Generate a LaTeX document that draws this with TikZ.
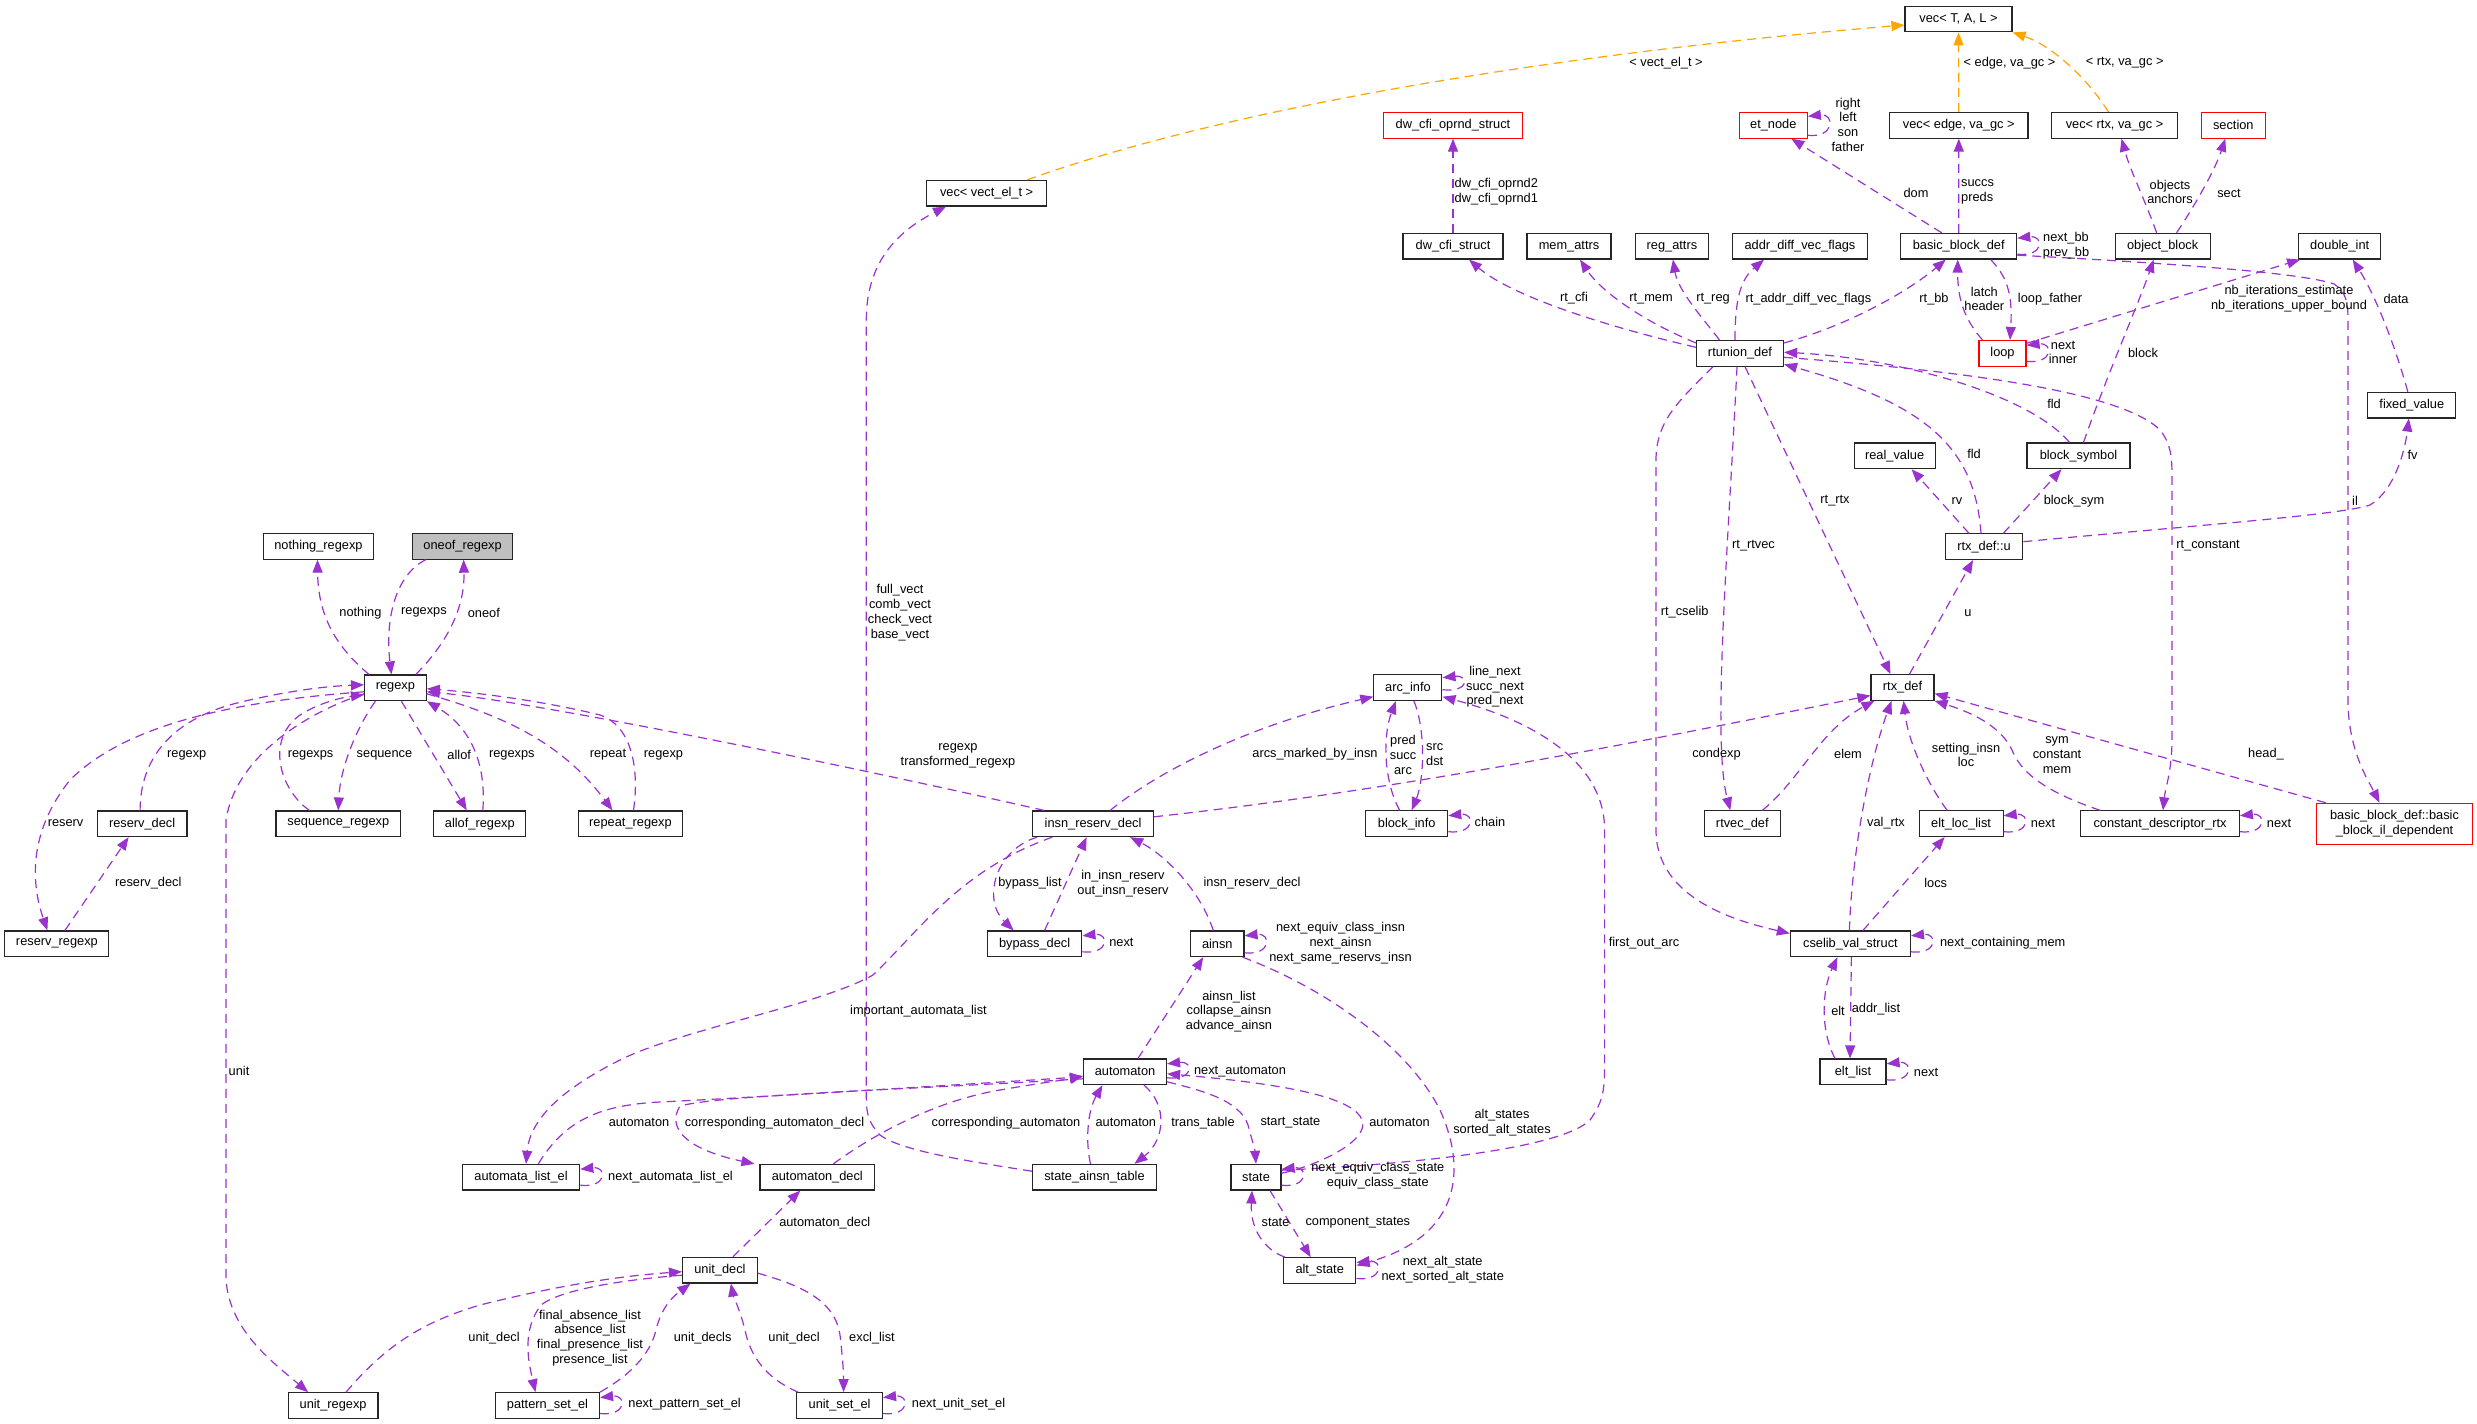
\documentclass[tikz,border=0pt]{standalone}
\usepackage{fontspec}
\setmainfont{Liberation Sans}
\usetikzlibrary{arrows.meta,calc}
\definecolor{purp}{RGB}{154,50,205}
\definecolor{orng}{RGB}{255,165,0}
\definecolor{gfill}{RGB}{191,191,191}
\newcommand\myloopab[3]{\draw[edge] ($(#1.east)+(0,#2)$) .. controls +(27,3) and +(27,-3) .. ($(#1.east)+(0,#3)$);}
\newcommand\myloop[1]{\myloopab{#1}{8}{-8}}
\begin{document}
\begin{tikzpicture}[x=1pt,y=-1pt,
  box/.style={draw=black!85, line width=1.15pt, fill=white, minimum height=25.6pt, inner sep=0pt, font=\fontsize{12.8}{14.8}\selectfont},
  rbox/.style={box, draw=red},
  lbl/.style={font=\fontsize{12.8}{14.8}\selectfont, align=center, inner sep=0pt},
  edge/.style={draw=purp, line width=1.2pt, dash pattern=on 9pt off 6pt, -{Triangle[length=13pt,width=10pt]}},
  oedge/.style={draw=orng, line width=1.2pt, dash pattern=on 9pt off 6pt, -{Triangle[length=13pt,width=10pt]}}]
\fill[white] (0,0) rectangle (2477,1424);
\useasboundingbox (0,0) rectangle (2477,1424);
% ---------- nodes ----------
\node[box, minimum width=107pt] (nvtal) at (1958.5,19) {vec< T, A, L >};
\node[box, minimum width=120pt] (nvvect) at (986.6,193.2) {vec< vect\_el\_t >};
\node[rbox, minimum width=139pt] (ndwop) at (1453,125.3) {dw\_cfi\_oprnd\_struct};
\node[rbox, minimum width=68pt] (netnode) at (1773.3,125.3) {et\_node};
\node[box, minimum width=138.5pt] (nvedge) at (1958.8,125.3) {vec< edge, va\_gc >};
\node[box, minimum width=125.4pt] (nvrtx) at (2114.5,125.3) {vec< rtx, va\_gc >};
\node[rbox, minimum width=64pt] (nsection) at (2233.3,125.3) {section};
\node[box, minimum width=100pt] (ndwcfi) at (1453,246.2) {dw\_cfi\_struct};
\node[box, minimum width=84pt] (nmemattrs) at (1569,246.2) {mem\_attrs};
\node[box, minimum width=73pt] (nregattrs) at (1671.9,246.2) {reg\_attrs};
\node[box, minimum width=135pt] (naddrdiff) at (1800,246.2) {addr\_diff\_vec\_flags};
\node[box, minimum width=116pt] (nbbdef) at (1958.7,246.2) {basic\_block\_def};
\node[box, minimum width=95pt] (nobjblock) at (2162.6,246.2) {object\_block};
\node[box, minimum width=82pt] (ndoubleint) at (2339.7,246.2) {double\_int};
\node[box, minimum width=87pt] (nrtunion) at (1740,353.3) {rtunion\_def};
\node[rbox, minimum width=47pt] (nloop) at (2002.5,353.3) {loop};
\node[box, minimum width=81pt] (nrealvalue) at (1894.6,455.8) {real\_value};
\node[box, minimum width=103pt] (nblocksym) at (2078.5,455.8) {block\_symbol};
\node[box, minimum width=88pt] (nfixedvalue) at (2411.8,405.2) {fixed\_value};
\node[box, minimum width=77.5pt] (nrtxu) at (1984,546.7) {rtx\_def::u};
\node[box, minimum width=110pt] (nnothing) at (318.5,546.3) {nothing\_regexp};
\node[box, fill=gfill, minimum width=100.4pt] (noneof) at (462.6,546.3) {oneof\_regexp};
\node[box, minimum width=61.7pt] (nregexp) at (395.4,687.8) {regexp};
\node[box, minimum width=68pt] (narcinfo) at (1407.9,687.7) {arc\_info};
\node[box, minimum width=63pt] (nrtxdef) at (1902.5,687.5) {rtx\_def};
\node[box, minimum width=89.7pt] (nreservdecl) at (142.1,823.8) {reserv\_decl};
\node[box, minimum width=124.5pt] (nseqre) at (338.3,823.8) {sequence\_regexp};
\node[box, minimum width=92pt] (nallof) at (479.8,823.8) {allof\_regexp};
\node[box, minimum width=104pt] (nrepeat) at (630.5,823.8) {repeat\_regexp};
\node[box, minimum width=120.6pt] (ninsnreserv) at (1093.1,823.8) {insn\_reserv\_decl};
\node[box, minimum width=82pt] (nblockinfo) at (1406.7,823.7) {block\_info};
\node[box, minimum width=76pt] (nrtvec) at (1742.3,823.7) {rtvec\_def};
\node[box, minimum width=84pt] (neltloc) at (1961.1,823.7) {elt\_loc\_list};
\node[box, minimum width=158.6pt] (nconstdesc) at (2160,823.7) {constant\_descriptor\_rtx};
\node[rbox, minimum width=155.5pt, minimum height=41pt, align=center] (nbbil) at (2394.5,823.8) {basic\_block\_def::basic\\\_block\_il\_dependent};
\node[box, minimum width=104pt] (nreservre) at (56.9,943.8) {reserv\_regexp};
\node[box, minimum width=94.5pt] (nbypass) at (1034.6,943.8) {bypass\_decl};
\node[box, minimum width=53.4pt] (nainsn) at (1217.3,943.8) {ainsn};
\node[box, minimum width=120pt] (ncselib) at (1850.4,943.8) {cselib\_val\_struct};
\node[box, minimum width=83pt] (nautomaton) at (1125,1071.8) {automaton};
\node[box, minimum width=66pt] (neltlist) at (1853,1071.8) {elt\_list};
\node[box, minimum width=117.5pt] (nautolist) at (521,1177.2) {automata\_list\_el};
\node[box, minimum width=114.6pt] (nautodecl) at (817.3,1177.2) {automaton\_decl};
\node[box, minimum width=124pt] (nsat) at (1094.5,1177.2) {state\_ainsn\_table};
\node[box, minimum width=50pt] (nstate) at (1256,1177.2) {state};
\node[box, minimum width=72.4pt] (naltstate) at (1319.7,1270.5) {alt\_state};
\node[box, minimum width=74.7pt] (nunitdecl) at (719.9,1270.2) {unit\_decl};
\node[box, minimum width=89.7pt] (nunitre) at (333.1,1405.5) {unit\_regexp};
\node[box, minimum width=104pt] (npattern) at (547.5,1405.5) {pattern\_set\_el};
\node[box, minimum width=85.8pt] (nunitset) at (839.6,1405.5) {unit\_set\_el};
% ---------- orange edges ----------
\draw[oedge] ($(nvvect.north east)+(-20,0)$) .. controls (1250,100) and (1600,50) .. ($(nvtal.west)+(0,6)$);
\draw[oedge] (nvedge.north) -- (nvtal.south);
\draw[oedge] ($(nvrtx.north)+(-6,0)$) .. controls (2085,75) and (2050,45) .. (nvtal.south east);
\node[lbl] (o1) at (1666,63) {< vect\_el\_t >};
\node[lbl, anchor=west] (o2) at (1963.4,62.7) {< edge, va\_gc >};
\node[lbl] (o3) at (2124.7,62.7) {< rtx, va\_gc >};
% ---------- top right ----------
\draw[edge] (ndwcfi.north) -- (ndwop.south);
\draw[edge] ($(nrtunion.west)+(0,-6)$) .. controls (1600,325) and (1510,295) .. ($(ndwcfi.south)+(16,0)$);
\draw[edge] ($(nrtunion.north west)+(0,3)$) .. controls (1640,320) and (1600,290) .. ($(nmemattrs.south)+(11,0)$);
\draw[edge] ($(nrtunion.north)+(-20.5,0)$) .. controls (1700,315) and (1678,290) .. ($(nregattrs.south)+(1,0)$);
\draw[edge] ($(nrtunion.north)+(-5,0)$) .. controls (1735,300) and (1740,280) .. ($(naddrdiff.south)+(-36,0)$);
\draw[edge] ($(nrtunion.north east)+(0,3)$) .. controls (1850,325) and (1910,290) .. ($(nbbdef.south)+(-13,0)$);
\draw[edge] ($(nbbdef.north)+(-17,0)$) -- ($(netnode.south)+(18,0)$);
\myloopab{netnode}{10}{-9}
\draw[edge] (nbbdef.north) -- (nvedge.south);
\myloop{nbbdef}
\draw[edge] ($(nobjblock.north)+(-6,0)$) .. controls (2145,200) and (2130,170) .. ($(nvrtx.south)+(7,0)$);
\draw[edge] ($(nobjblock.north)+(14,0)$) .. controls (2195,205) and (2215,170) .. ($(nsection.south)+(-8,0)$);
\draw[edge] ($(nloop.north)+(-20,0)$) .. controls (1965,320) and (1957.5,300) .. ($(nbbdef.south)+(-1,0)$);
\draw[edge] ($(nbbdef.south)+(32,0)$) .. controls (2005,275) and (2013,290) .. ($(nloop.north)+(7.5,0)$);
\myloop{nloop}
\draw[edge] ($(nloop.east)+(0,-10)$) -- ($(ndoubleint.south west)+(2,0)$);
\draw[edge] ($(nfixedvalue.north)+(-4,0)$) .. controls (2395,345) and (2375,295) .. ($(ndoubleint.south)+(13,0)$);
\draw[edge] ($(nbbdef.east)+(0,9)$) .. controls (2150,262) and (2300,272) .. (2334,284) .. controls (2346,292) and (2348,302) .. (2348,320) -- (2348,700) .. controls (2348,750) and (2368,780) .. ($(nbbil.north)+(-15,0)$);
\draw[edge] ($(nrtunion.south)+(5,0)$) -- ($(nrtxdef.north)+(-12,0)$);
\draw[edge] ($(nrtxu.north)+(-3,0)$) .. controls (1975,450) and (1930,405) .. ($(nrtunion.east)+(0,11)$);
\draw[edge] ($(nblocksym.north)+(-9,0)$) .. controls (2030,395) and (1900,358) .. ($(nrtunion.east)+(0,-1)$);
\draw[edge] ($(nrtxu.north)+(-15,0)$) -- ($(nrealvalue.south)+(17,0)$);
\draw[edge] ($(nrtxu.north east)+(-20,0)$) -- ($(nblocksym.south)+(-17,0)$);
\draw[edge] ($(nblocksym.north)+(5,0)$) .. controls (2105,380) and (2140,300) .. ($(nobjblock.south)+(-9,0)$);
\draw[edge] ($(nrtxdef.north)+(7,0)$) -- ($(nrtxu.south)+(-11,0)$);
\draw[edge] ($(nrtunion.south)+(-3,0)$) .. controls (1728,550) and (1712,740) .. ($(nrtvec.north)+(-12,0)$);
\draw[edge] ($(nrtunion.south)+(-27,0)$) .. controls (1680,400) and (1656,420) .. (1656,460) -- (1656,830) .. controls (1656,900) and (1740,922) .. ($(ncselib.north west)+(0,3)$);
\draw[edge] ($(nrtunion.east)+(0,4)$) .. controls (1950,370) and (2120,390) .. (2160,430) .. controls (2172,445) and (2172,460) .. (2172,480) -- (2172,740) .. controls (2172,770) and (2165,790) .. ($(nconstdesc.north)+(3,0)$);
\draw[edge] ($(nrtxu.east)+(0,-5)$) .. controls (2200,525) and (2340,515) .. (2370,505) .. controls (2395,490) and (2405,450) .. ($(nfixedvalue.south)+(-3,0)$);
\draw[edge] ($(nrtvec.north)+(20,0)$) .. controls (1800,780) and (1820,730) .. ($(nrtxdef.south west)+(4,0)$);
\draw[edge] ($(ninsnreserv.east)+(0,-7)$) .. controls (1400,790) and (1650,740) .. ($(nrtxdef.west)+(0,8)$);
\draw[edge] ($(ncselib.north)+(-1,0)$) .. controls (1852,850) and (1870,760) .. ($(nrtxdef.south)+(-11,0)$);
\draw[edge] ($(neltloc.north)+(-14,0)$) .. controls (1925,780) and (1908,740) .. ($(nrtxdef.south)+(1,0)$);
\draw[edge] ($(nconstdesc.north west)+(20,0)$) .. controls (2040,790) and (2020,770) .. (2012,750) .. controls (2000,725) and (1970,712) .. (nrtxdef.south east);
\draw[edge] ($(nbbil.north west)+(9.5,0)$) -- ($(nrtxdef.east)+(0,6)$);
\myloop{neltloc}
\myloop{nconstdesc}
\draw[edge] ($(ncselib.north east)+(-48,0)$) -- ($(neltloc.south)+(-16.5,0)$);
\myloop{ncselib}
\draw[edge] ($(neltlist.north)+(-18,0)$) .. controls (1820,1030) and (1822,990) .. ($(ncselib.south)+(-13,0)$);
\draw[edge] ($(ncselib.south)+(1,0)$) -- ($(neltlist.north)+(-3,0)$);
\myloop{neltlist}
% ---------- middle ----------
\myloopab{narcinfo}{2}{-10}
\draw[edge] ($(ninsnreserv.north)+(17,0)$) .. controls (1160,770) and (1250,725) .. ($(narcinfo.west)+(0,9)$);
\draw[edge] ($(nblockinfo.north)+(-7,0)$) .. controls (1383,780) and (1383,735) .. ($(narcinfo.south)+(-12,0)$);
\draw[edge] ($(narcinfo.south)+(6,0)$) .. controls (1426,730) and (1424,780) .. ($(nblockinfo.north)+(5,0)$);
\myloop{nblockinfo}
\draw[edge] ($(nstate.east)+(0,-7)$) .. controls (1400,1165) and (1560,1150) .. (1590,1120) .. controls (1604,1100) and (1604.6,1090) .. (1604.6,1060) -- (1604.6,830) .. controls (1604.6,760) and (1530,720) .. ($(narcinfo.east)+(0,9)$);
\myloopab{nainsn}{9}{-8}
\draw[edge] ($(nainsn.north)+(-4,0)$) .. controls (1200,890) and (1165,855) .. ($(ninsnreserv.south)+(37,0)$);
\draw[edge] ($(ninsnreserv.south)+(-56,0)$) .. controls (995,850) and (982,900) .. ($(nbypass.north)+(-21,0)$);
\draw[edge] ($(nbypass.north)+(10,0)$) -- ($(ninsnreserv.south)+(-6.5,0)$);
\myloop{nbypass}
\draw[edge] ($(ninsnreserv.north west)+(12,0)$) .. controls (800,755) and (520,700) .. ($(nregexp.east)+(0,4)$);
\draw[edge] ($(ninsnreserv.south west)+(20,0)$) .. controls (960,870) and (920,930) .. (873,975) .. controls (820,1005) and (680,1030) .. (620,1060) .. controls (560,1090) and (530,1120) .. ($(nautolist.north)+(5,0)$);
\draw[edge] ($(nautolist.north east)+(-42,0)$) .. controls (565,1120) and (600,1105) .. (660,1102) .. controls (800,1095) and (1000,1082) .. ($(nautomaton.west)+(0,5)$);
\myloop{nautolist}
\draw[edge] ($(nautodecl.north)+(16,0)$) .. controls (880,1130) and (940,1100) .. (1000,1090) .. controls (1040,1083) and (1070,1079) .. ($(nautomaton.west)+(0,4)$);
\draw[edge] ($(nautomaton.west)+(0,7)$) .. controls (900,1090) and (720,1095) .. (680,1106) .. controls (668,1125) and (680,1148) .. ($(nautodecl.north west)+(-5,0)$);
\draw[edge] ($(nsat.north)+(-4,0)$) .. controls (1085,1140) and (1088,1110) .. ($(nautomaton.south)+(-22.5,0)$);
\draw[edge] ($(nautomaton.south)+(19,0)$) .. controls (1168,1105) and (1165,1140) .. ($(nsat.north)+(40,0)$);
\draw[edge] ($(nsat.west)+(0,-6)$) .. controls (960,1160) and (900,1150) .. (880,1135) .. controls (866,1120) and (866.3,1110) .. (866.3,1090) -- (866.3,320) .. controls (866.3,260) and (900,230) .. ($(nvvect.south west)+(20,0)$);
\draw[edge] ($(nautomaton.north)+(13,0)$) -- ($(nainsn.south)+(-14,0)$);
\draw[edge] ($(nautomaton.east)+(0,10)$) .. controls (1200,1090) and (1240,1100) .. (1248,1125) .. controls (1252,1140) and (1255,1150) .. (nstate.north);
\draw[edge] ($(nstate.east)+(0,-4)$) .. controls (1320,1165) and (1370,1140) .. (1362,1120) .. controls (1355,1100) and (1300,1085) .. ($(nautomaton.east)+(0,2)$);
\myloopab{nautomaton}{6}{-8}
\myloop{nstate}
\draw[edge] ($(nainsn.south east)+(-2,0)$) .. controls (1330,990) and (1410,1050) .. (1440,1110) .. controls (1465,1165) and (1465,1235) .. ($(naltstate.east)+(0,-5)$);
\draw[edge] ($(naltstate.north west)+(2,0)$) .. controls (1265,1250) and (1250,1230) .. ($(nstate.south)+(-4,0)$);
\draw[edge] ($(nstate.south)+(14,0)$) -- ($(naltstate.north)+(-9,0)$);
\myloop{naltstate}
% ---------- bottom left ----------
\draw[edge] ($(nunitdecl.north)+(13,0)$) -- ($(nautodecl.south)+(-17,0)$);
\draw[edge] ($(nunitre.north)+(13,0)$) .. controls (390,1340) and (430,1320) .. (480,1305) .. controls (560,1285) and (620,1276) .. ($(nunitdecl.west)+(0,1.5)$);
\draw[edge] ($(nunitdecl.west)+(0,5)$) .. controls (620,1280) and (560,1290) .. (541,1305) .. controls (522,1330) and (528,1360) .. ($(npattern.north)+(-12,0)$);
\draw[edge] (npattern.north east) .. controls (630,1375) and (650,1355) .. (656,1330) .. controls (662,1305) and (675,1295) .. ($(nunitdecl.south west)+(8.5,0)$);
\myloop{npattern}
\draw[edge] ($(nunitset.north west)+(2,0)$) .. controls (765,1378) and (750,1355) .. (745,1330) .. controls (740,1310) and (733,1295) .. ($(nunitdecl.south)+(11,0)$);
\draw[edge] ($(nunitdecl.east)+(0,3)$) .. controls (800,1285) and (835,1300) .. (840,1335) .. controls (843,1360) and (843.6,1375) .. ($(nunitset.north)+(4,0)$);
\myloop{nunitset}
\draw[edge] ($(nregexp.west)+(0,6)$) .. controls (300,715) and (235,760) .. (226,820) -- (226,1280) .. controls (230,1330) and (270,1360) .. ($(nunitre.north)+(-25,0)$);
\draw[edge] ($(nregexp.north west)+(5,0)$) .. controls (340,650) and (318,620) .. ($(nnothing.south)+(-1,0)$);
\draw[edge] ($(noneof.south west)+(14,0)$) .. controls (395,575) and (385,620) .. ($(nregexp.north)+(-4,0)$);
\draw[edge] ($(nregexp.north east)+(-11,0)$) .. controls (445,645) and (465,610) .. ($(noneof.south)+(1,0)$);
\draw[edge] ($(nregexp.west)+(0,4)$) .. controls (250,700) and (130,720) .. (70,780) .. controls (30,830) and (30,880) .. ($(nreservre.north)+(-9.5,0)$);
\draw[edge] ($(nreservdecl.north)+(-2,0)$) .. controls (140,760) and (170,720) .. (237,703) .. controls (290,690) and (330,686) .. ($(nregexp.west)+(0,-3)$);
\draw[edge] ($(nreservre.north)+(8,0)$) -- ($(nreservdecl.south)+(-13.5,0)$);
\draw[edge] ($(nseqre.north west)+(34,0)$) .. controls (280,790) and (265,740) .. (300,715) .. controls (320,702) and (345,697) .. ($(nregexp.west)+(0,7)$);
\draw[edge] ($(nregexp.south)+(-20,0)$) .. controls (355,730) and (340,770) .. (nseqre.north);
\draw[edge] ($(nregexp.south)+(6,0)$) -- ($(nallof.north)+(-13,0)$);
\draw[edge] ($(nallof.north)+(3,0)$) .. controls (486,770) and (475,730) .. (nregexp.south east);
\draw[edge] ($(nregexp.east)+(0,6)$) .. controls (500,715) and (560,740) .. ($(nrepeat.north)+(-18,0)$);
\draw[edge] ($(nrepeat.north)+(3,0)$) .. controls (640,765) and (630,725) .. (600,715) .. controls (540,700) and (470,692) .. ($(nregexp.east)+(0,1)$);
% ---------- labels ----------
\node[lbl, anchor=west, align=left] (l1) at (1454.5,192) {dw\_cfi\_oprnd2\\dw\_cfi\_oprnd1};
\node[lbl] (l2) at (1574,298) {rt\_cfi};
\node[lbl] (l3) at (1651,299) {rt\_mem};
\node[lbl] (l4) at (1713,299) {rt\_reg};
\node[lbl] (l5) at (1808.4,299) {rt\_addr\_diff\_vec\_flags};
\node[lbl] (l6) at (1934,299) {rt\_bb};
\node[lbl] (l7) at (1916,193) {dom};
\node[lbl] (l8) at (1848,124.7) {right\\left\\son\\father};
\node[lbl, anchor=west, align=left] (l9) at (1961,192) {succs\\preds};
\node[lbl] (l10) at (2066,245.5) {next\_bb\\prev\_bb};
\node[lbl] (l11) at (2170,192) {objects\\anchors};
\node[lbl] (l12) at (2229,193) {sect};
\node[lbl] (l13) at (1984.3,299) {latch\\header};
\node[lbl] (l14) at (2050,299) {loop\_father};
\node[lbl] (l15) at (2063,352.5) {next\\inner};
\node[lbl] (l16) at (2289,299) {nb\_iterations\_estimate\\nb\_iterations\_upper\_bound};
\node[lbl] (l17) at (2396,299) {data};
\node[lbl] (l18) at (2355,500.7) {il};
\node[lbl] (l19) at (1835,500.7) {rt\_rtx};
\node[lbl] (l20) at (1974,454) {fld};
\node[lbl] (l21) at (2054,404) {fld};
\node[lbl] (l22) at (1957,500.7) {rv};
\node[lbl] (l23) at (2074,500.7) {block\_sym};
\node[lbl] (l24) at (2143,352.7) {block};
\node[lbl] (l25) at (1968,613) {u};
\node[lbl] (l26) at (1753.5,545.7) {rt\_rtvec};
\node[lbl] (l27) at (1684.7,612.3) {rt\_cselib};
\node[lbl] (l28) at (2208,545.7) {rt\_constant};
\node[lbl] (l29) at (2412.5,455.3) {fv};
\node[lbl] (l30) at (1848,754) {elem};
\node[lbl] (l31) at (1716.5,754.3) {condexp};
\node[lbl] (l32) at (1886,823) {val\_rtx};
\node[lbl] (l33) at (1966,755) {setting\_insn\\loc};
\node[lbl] (l34) at (2057,755) {sym\\constant\\mem};
\node[lbl] (l35) at (2266,754) {head\_};
\node[lbl] (l36) at (2043,823) {next};
\node[lbl] (l37) at (2279,823) {next};
\node[lbl] (l38) at (1935.7,882.7) {locs};
\node[lbl] (l39) at (2002.7,942.7) {next\_containing\_mem};
\node[lbl] (l40) at (1838,1010.7) {elt};
\node[lbl] (l41) at (1876,1009) {addr\_list};
\node[lbl] (l42) at (1926,1072) {next};
\node[lbl] (l43) at (1495,686.7) {line\_next\\succ\_next\\pred\_next};
\node[lbl] (l44) at (1315,754) {arcs\_marked\_by\_insn};
\node[lbl] (l45) at (1403,755) {pred\\succ\\arc};
\node[lbl, anchor=west, align=left] (l46) at (1426,755) {src\\dst};
\node[lbl] (l47) at (1490,822.3) {chain};
\node[lbl] (l48) at (1644,942.7) {first\_out\_arc};
\node[lbl] (l49) at (1340.5,943) {next\_equiv\_class\_insn\\next\_ainsn\\next\_same\_reservs\_insn};
\node[lbl] (l50) at (1252,882.7) {insn\_reserv\_decl};
\node[lbl] (l51) at (1030,882.7) {bypass\_list};
\node[lbl] (l52) at (1123,883.3) {in\_insn\_reserv\\out\_insn\_reserv};
\node[lbl] (l53) at (1121.4,942.7) {next};
\node[lbl] (l54) at (958,755.5) {regexp\\transformed\_regexp};
\node[lbl] (l55) at (918.5,1011) {important\_automata\_list};
\node[lbl] (l56) at (639,1122.7) {automaton};
\node[lbl] (l57) at (670.5,1176.7) {next\_automata\_list\_el};
\node[lbl] (l58) at (1006,1122.7) {corresponding\_automaton};
\node[lbl] (l59) at (774.5,1122.7) {corresponding\_automaton\_decl};
\node[lbl] (l60) at (1125.8,1122.7) {automaton};
\node[lbl] (l61) at (1203,1122.7) {trans\_table};
\node[lbl] (l62) at (900,612.7) {full\_vect\\comb\_vect\\check\_vect\\base\_vect};
\node[lbl] (l63) at (1229,1011.5) {ainsn\_list\\collapse\_ainsn\\advance\_ainsn};
\node[lbl] (l64) at (1290.4,1122.7) {start\_state};
\node[lbl] (l65) at (1399.5,1122.7) {automaton};
\node[lbl] (l66) at (1240,1071.8) {next\_automaton};
\node[lbl] (l67) at (1377.8,1176) {next\_equiv\_class\_state\\equiv\_class\_state};
\node[lbl] (l68) at (1502,1123) {alt\_states\\sorted\_alt\_states};
\node[lbl] (l69) at (1275.5,1222.7) {state};
\node[lbl] (l70) at (1357.8,1222.7) {component\_states};
\node[lbl] (l71) at (1442.7,1269.7) {next\_alt\_state\\next\_sorted\_alt\_state};
\node[lbl] (l72) at (824.8,1222.7) {automaton\_decl};
\node[lbl] (l73) at (494,1337.7) {unit\_decl};
\node[lbl] (l74) at (590,1338) {final\_absence\_list\\absence\_list\\final\_presence\_list\\presence\_list};
\node[lbl] (l75) at (702.6,1337.7) {unit\_decls};
\node[lbl] (l76) at (684.6,1404.3) {next\_pattern\_set\_el};
\node[lbl] (l77) at (794,1337.7) {unit\_decl};
\node[lbl] (l78) at (872,1337.7) {excl\_list};
\node[lbl] (l79) at (958.5,1404.3) {next\_unit\_set\_el};
\node[lbl] (l80) at (239,1070.7) {unit};
\node[lbl] (l81) at (360.4,612.7) {nothing};
\node[lbl] (l82) at (424,612.7) {regexps};
\node[lbl] (l83) at (483.8,612.7) {oneof};
\node[lbl] (l84) at (65.6,822.7) {reserv};
\node[lbl] (l85) at (186.8,755) {regexp};
\node[lbl] (l86) at (148.3,882.7) {reserv\_decl};
\node[lbl] (l87) at (310.6,755) {regexps};
\node[lbl] (l88) at (384.5,755) {sequence};
\node[lbl] (l89) at (459.2,755) {allof};
\node[lbl] (l90) at (511.8,755) {regexps};
\node[lbl] (l91) at (608,755) {repeat};
\node[lbl] (l92) at (663.5,755) {regexp};
\end{tikzpicture}
\end{document}
